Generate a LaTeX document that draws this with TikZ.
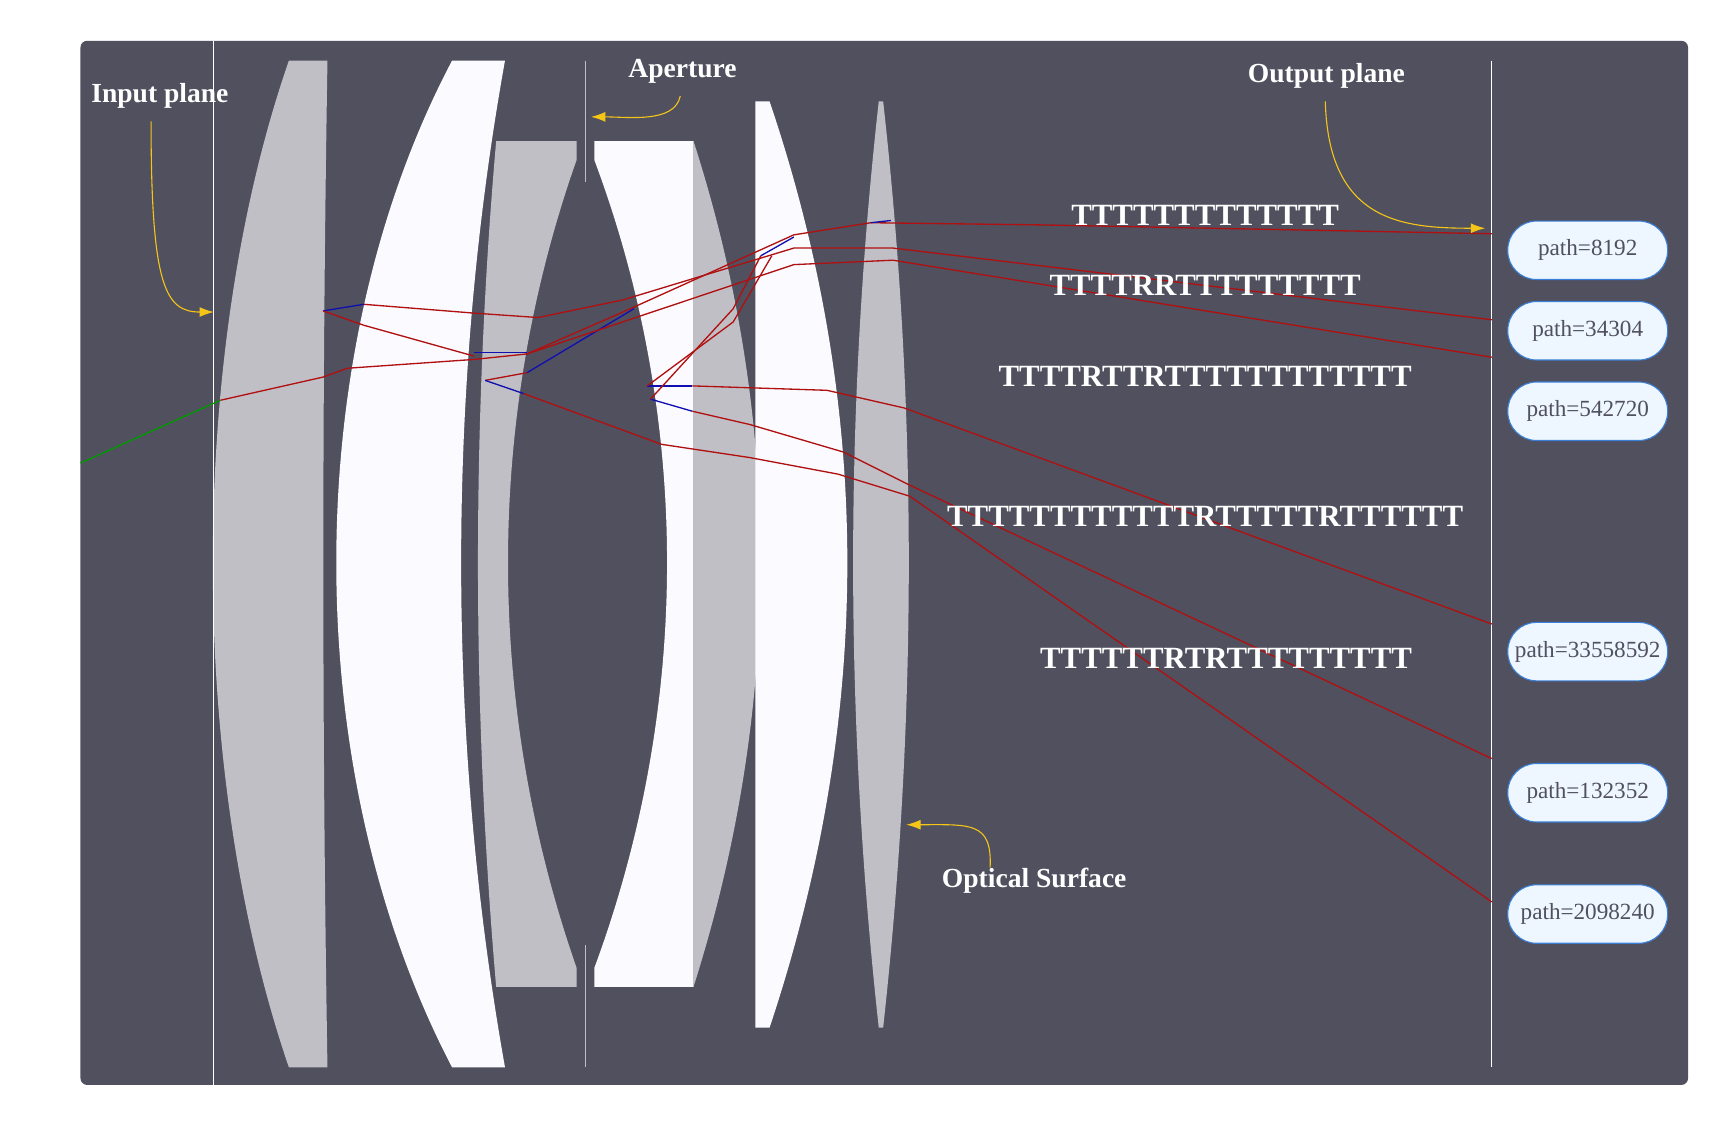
\documentclass[tikz,border=0pt]{standalone}
\usepackage{fontspec}
\setmainfont{Liberation Serif}
\usetikzlibrary{arrows.meta}
\definecolor{bg}{HTML}{50505F}
\definecolor{lg}{HTML}{C1BFC6}
\definecolor{lw}{HTML}{FAFAFF}
\definecolor{ray}{HTML}{B01010}
\definecolor{rb}{HTML}{1010B0}
\definecolor{yel}{HTML}{F5C518}
\definecolor{pf}{HTML}{EEF6FF}
\definecolor{pd}{HTML}{3A80D8}
\begin{document}
\begin{tikzpicture}[x=1pt,y=-1pt,
  r/.style={ray,line width=1.2pt},
  b/.style={rb,line width=1.2pt},
  lab/.style={text=white,font=\fontsize{25}{28}\selectfont\bfseries},
  tl/.style={text=white,font=\fontsize{28}{30}\selectfont\bfseries},
  pb/.style={draw=pd,fill=pf,rounded corners=26pt,minimum width=145pt,minimum height=53pt,line width=1pt,text=bg,font=\fontsize{21}{24}\selectfont},
  ya/.style={yel,line width=1pt,-{Latex[length=13pt,width=9pt]}},
  pl/.style={white,line width=0.8pt}]
\useasboundingbox (0,0) rectangle (1560,1016);
\fill[bg,rounded corners=6pt] (73,37) rectangle (1531,984);
% lenses
\fill[lg] (262,55) -- (297,55) .. controls (292,360) and (292,660) .. (297,968) -- (262,968) .. controls (170,700) and (170,320) .. (262,55) -- cycle;
\fill[lw] (410,55) -- (458,55) .. controls (405,350) and (405,670) .. (458,968) -- (410,968) .. controls (270,700) and (270,320) .. (410,55) -- cycle;
\fill[lg] (450,128) -- (523,128) -- (523,145) .. controls (440,380) and (440,640) .. (523,878) -- (523,895) -- (450,895) .. controls (428,640) and (428,380) .. (450,128) -- cycle;
\fill[lw] (539,128) -- (629,128) -- (629,895) -- (539,895) -- (539,878) .. controls (627,640) and (627,380) .. (539,145) -- cycle;
\fill[lg] (629,128) .. controls (710,380) and (710,640) .. (629,895) -- cycle;
\fill[lw] (685,92) -- (698,92) .. controls (792,370) and (792,650) .. (698,932) -- (685,932) -- cycle;
\fill[lg] (797,92) -- (801,92) .. controls (832,370) and (832,650) .. (801,932) -- (797,932) .. controls (766,650) and (766,370) .. (797,92) -- cycle;
% planes
\coordinate (i1) at (194,37); \coordinate (i2) at (194,984);
\draw[pl] (i1) -- (i2);
\coordinate (a1) at (531,55); \coordinate (a2) at (531,165);
\coordinate (a3) at (531,857); \coordinate (a4) at (531,968);
\draw[lg,line width=1pt] (a1) -- (a2) (a3) -- (a4);
\coordinate (o1) at (1353,55); \coordinate (o2) at (1353,968);
\draw[pl] (o1) -- (o2);
% rays
\draw[green!60!black,line width=1.2pt] (73,420) -- (200,363);
\draw[r] (200,363) -- (293,342) -- (315,334) -- (430,326) -- (478,321) -- (565,283) -- (720,213) -- (790,202) -- (945,204) -- (1353,212);
\draw[b] (293,282) -- (330,276);
\draw[r] (330,276) -- (430,284) -- (488,288) -- (565,272) -- (720,225) -- (810,225) -- (1353,290);
\draw[r] (293,282) -- (330,295) -- (430,323);
\draw[b] (430,320) -- (478,320);
\draw[b] (478,338) -- (575,280);
\draw[r] (478,321) -- (720,240) -- (810,236) -- (1353,324);
\draw[r] (440,345) -- (478,338);
\draw[b] (440,345) -- (475,357);
\draw[r] (475,357) -- (600,403) -- (680,415) -- (760,430) -- (825,450) -- (1353,818);
\draw[b] (587,350) -- (628,350);
\draw[r] (628,350) -- (750,354) -- (820,370) -- (1353,566);
\draw[b] (590,362) -- (628,373);
\draw[r] (628,373) -- (680,385) -- (765,410) -- (825,440) -- (1353,688);
\draw[r] (587,350) -- (665,292) -- (700,232);
\draw[r] (590,362) -- (665,280) -- (690,232);
\draw[b] (690,232) -- (720,215);
\draw[b] (790,202) -- (808,200);
% path boxes
\node[pb] (p1) at (1440,227) {path=8192};
\node[pb] (p2) at (1440,300) {path=34304};
\node[pb] (p3) at (1440,373) {path=542720};
\node[pb] (p4) at (1440,591) {path=33558592};
\node[pb] (p5) at (1440,719) {path=132352};
\node[pb] (p6) at (1440,829) {path=2098240};
% T labels
\node[tl] (t1) at (1093,195) {TTTTTTTTTTTTT};
\node[tl] (t2) at (1093,259) {TTTTRRTTTTTTTTT};
\node[tl] (t3) at (1093,341) {TTTTRTTRTTTTTTTTTTTT};
\node[tl] (t4) at (1093,468) {TTTTTTTTTTTTRTTTTTRTTTTTT};
\node[tl] (t5) at (1112,597) {TTTTTTRTRTTTTTTTTT};
% annotations
\node[lab] (li) at (145,87) {Input plane};
\node[lab] (la) at (619,65) {Aperture};
\node[lab] (lo) at (1203,69) {Output plane};
\node[lab] (ls) at (938,799) {Optical Surface};
\coordinate (ei) at (194,283); \coordinate (ea) at (536,106);
\coordinate (eo) at (1347,207); \coordinate (es) at (822,748);
\draw[ya] (137,110) .. controls (137,260) and (150,283) .. (ei);
\draw[ya] (617,87) .. controls (612,112) and (570,106) .. (ea);
\draw[ya] (1202,92) .. controls (1205,200) and (1270,207) .. (eo);
\draw[ya] (898,787) .. controls (900,745) and (880,748) .. (es);
\end{tikzpicture}
\end{document}
